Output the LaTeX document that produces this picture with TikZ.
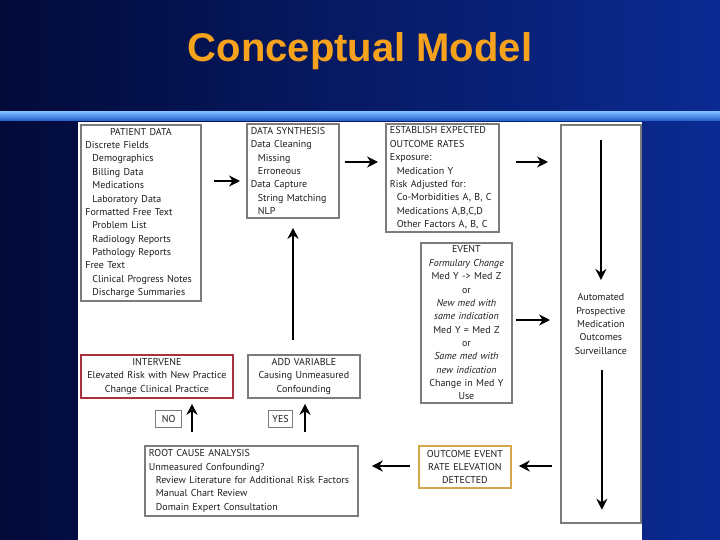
\documentclass[tikz,border=0pt]{standalone}
\usepackage{fontspec}
\setmainfont{PT Sans}
\newfontfamily\titlefont{Liberation Sans}
\usetikzlibrary{arrows.meta,calc}
\definecolor{bgleft}{HTML}{020A38}
\definecolor{bgright}{HTML}{0B2A92}
\definecolor{barlight}{HTML}{7AB8FF}
\definecolor{bardark}{HTML}{1E5CC8}
\definecolor{titleorange}{HTML}{F7A21C}
\definecolor{boxgray}{HTML}{7C7C7C}
\definecolor{boxred}{HTML}{A8323F}
\definecolor{boxgold}{HTML}{D4A848}
\definecolor{ink}{HTML}{1E1E1E}
\newcommand\bodyfont{\fontsize{10}{13.35}\selectfont}
\newcommand\ind{\hspace*{7pt}}
\newcommand\ctr[1]{\makebox[\hsize]{#1}}
\begin{document}
\begin{tikzpicture}[x=1pt,y=-1pt,
  box/.style={draw=boxgray, line width=1.8pt, fill=white, inner xsep=4pt, inner ysep=1pt,
    anchor=north west, font=\bodyfont, text=ink},
  arr/.style={-{Stealth[length=11pt,width=11pt]}, line width=2.2pt, black},
  titletext/.style={font=\titlefont\fontsize{40}{40}\selectfont\bfseries, text=titleorange}
]
\shade[left color=bgleft, right color=bgright] (0,0) rectangle (720,540);
\useasboundingbox (0,0) rectangle (720,540);
\shade[top color=barlight, bottom color=bardark] (0,112) rectangle (720,121);
\fill[white] (78,122) rectangle (642,540);

\node[titletext, anchor=base] (title) at (360,62) {Conceptual Model};

\node[box, minimum width=120pt, minimum height=176pt, text width=111pt, align=left] (patient) at (80,124) {%
\ctr{PATIENT DATA}\\
Discrete Fields\\
\ind Demographics\\
\ind Billing Data\\
\ind Medications\\
\ind Laboratory Data\\
Formatted Free Text\\
\ind Problem List\\
\ind Radiology Reports\\
\ind Pathology Reports\\
Free Text\\
\ind Clinical Progress Notes\\
\ind Discharge Summaries};

\node[box, minimum width=92pt, minimum height=94pt, text width=84pt, align=left] (synth) at (246,123) {%
DATA SYNTHESIS\\
Data Cleaning\\
\ind Missing\\
\ind Erroneous\\
Data Capture\\
\ind String Matching\\
\ind NLP};

\node[box, minimum width=113pt, minimum height=108pt, text width=105pt, align=left] (establish) at (385,123) {%
ESTABLISH EXPECTED\\
OUTCOME RATES\\
Exposure:\\
\ind Medication Y\\
Risk Adjusted for:\\
\ind Co-Morbidities A, B, C\\
\ind Medications A,B,C,D\\
\ind Other Factors A, B, C};

\node[box, minimum width=91pt, minimum height=160pt, text width=83pt, align=center] (event) at (420,242) {%
EVENT\\
\textit{Formulary Change}\\
Med Y -> Med Z\\
or\\
\textit{New med with}\\
\textit{same indication}\\
Med Y = Med Z\\
or\\
\textit{Same med with}\\
\textit{new indication}\\
Change in Med Y\\
Use};

\node[box, minimum width=80pt, minimum height=398pt, text width=72pt, align=center] (surv) at (560,124) {%
Automated\\
Prospective\\
Medication\\
Outcomes\\
Surveillance};

\node[box, draw=boxred, minimum width=152pt, minimum height=43pt, text width=144pt, align=center] (intervene) at (80,354) {%
INTERVENE\\
Elevated Risk with New Practice\\
Change Clinical Practice};

\node[box, minimum width=112pt, minimum height=43pt, text width=104pt, align=center] (addvar) at (247,354) {%
ADD VARIABLE\\
Causing Unmeasured\\
Confounding};

\node[box, line width=1.2pt, minimum width=26pt, minimum height=17pt, inner xsep=2pt, align=center] (no) at (155,410) {NO};
\node[box, line width=1.2pt, minimum width=24pt, minimum height=17pt, inner xsep=2pt, align=center] (yes) at (268,410) {YES};

\node[box, minimum width=213pt, minimum height=70pt, text width=205pt, align=left] (root) at (144,445) {%
ROOT CAUSE ANALYSIS\\
Unmeasured Confounding?\\
\ind Review Literature for Additional Risk Factors\\
\ind Manual Chart Review\\
\ind Domain Expert Consultation};

\node[box, draw=boxgold, minimum width=92pt, minimum height=42pt, text width=84pt, align=center] (outcome) at (418,445) {%
OUTCOME EVENT\\
RATE ELEVATION\\
DETECTED};

% connectors
\draw[arr, shorten <=12pt, shorten >=6pt] (patient.east |- 0,181) -- (synth.west |- 0,181);
\draw[arr, shorten <=5pt, shorten >=7pt] (synth.east |- 0,162) -- (establish.west |- 0,162);
\draw[arr, shorten <=16pt, shorten >=12pt] (establish.east |- 0,162) -- (surv.west |- 0,162);
\draw[arr, shorten <=3pt, shorten >=10pt] (event.east |- 0,320) -- (surv.west |- 0,320);
\draw[arr] ($(surv.north)+(0,16)$) -- ($(surv.north)+(0,156)$);
\draw[arr] ($(surv.south)+(1,-154)$) -- ($(surv.south)+(1,-14)$);
\draw[arr, shorten <=8pt, shorten >=7pt] (surv.west |- 0,466) -- (outcome.east |- 0,466);
\draw[arr, shorten <=8pt, shorten >=13pt] (outcome.west |- 0,466) -- (root.east |- 0,466);
\draw[arr, shorten <=13pt, shorten >=5pt] (root.north -| 192,0) -- (intervene.south -| 192,0);
\draw[arr, shorten <=13pt, shorten >=5pt] (root.north -| 305,0) -- (addvar.south -| 305,0);
\draw[arr, shorten <=14pt, shorten >=9pt] (addvar.north -| 293,0) -- (synth.south -| 293,0);
\end{tikzpicture}
\end{document}
